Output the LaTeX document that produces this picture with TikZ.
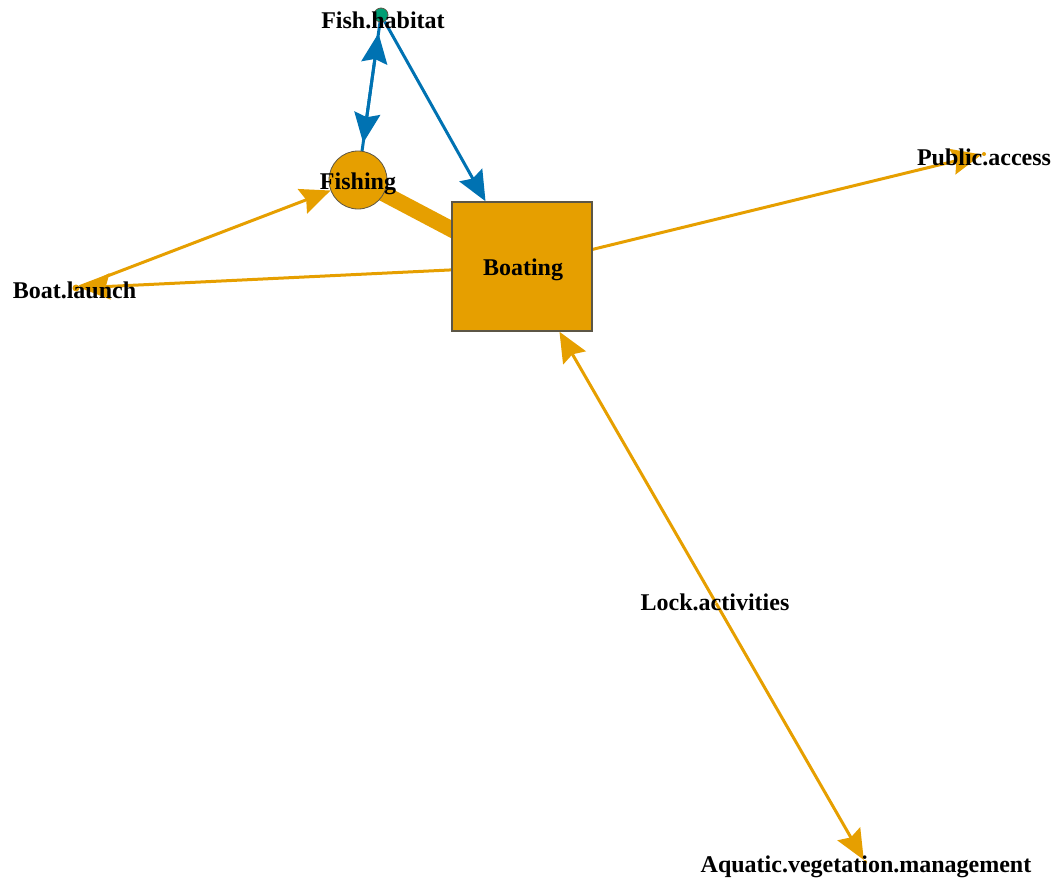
\documentclass[tikz,border=0pt]{standalone}
\usepackage{fontspec}
\setmainfont{Liberation Serif}
\usetikzlibrary{arrows.meta}
\definecolor{orng}{HTML}{E69F00}
\definecolor{blu}{HTML}{0072B2}
\definecolor{grn}{HTML}{009E73}
\definecolor{rim}{HTML}{5C5646}
\pgfdeclarelayer{edges}
\pgfdeclarelayer{labels}
\pgfsetlayers{edges,main,labels}
\tikzset{
  vtx/.style={circle, inner sep=0pt, draw=rim, line width=0.8pt, fill=orng},
  lbl/.style={font=\fontsize{24}{28}\selectfont\bfseries, anchor=base, inner sep=0pt},
  arr/.style={-{Stealth[length=30pt,width=26pt,inset=4pt]}},
  olink/.style={line width=3pt, draw=orng},
  blink/.style={line width=3pt, draw=blu},
}
\begin{document}
\begin{tikzpicture}[x=1pt,y=-1pt]
\useasboundingbox (0,0) rectangle (1059,884);
% vertices
\node[vtx, fill=grn, minimum size=14pt] (fh) at (381,15) {};
\node[vtx, minimum size=58pt] (fi) at (358,180) {};
\node[rectangle, draw=rim, line width=1.5pt, fill=orng, minimum width=140pt,
      minimum height=129pt, inner sep=0pt] (bo) at (522,266.5) {};
\node[vtx, draw=none, minimum size=7pt] (bl) at (76,288) {};
\node[vtx, draw=none, minimum size=4pt] (pa) at (984,154) {};
\node[inner sep=0pt, minimum size=0pt] (la) at (716,603) {};
\node[vtx, draw=none, minimum size=4pt] (av) at (865,862) {};
% edges, drawn beneath the vertices
\begin{pgfonlayer}{edges}
\draw[draw=orng, line width=16pt] (fi.center) -- (bo.center);
\draw[blink, arr, shorten >=11pt] (fi) -- (fh);
\draw[blink, arr, shorten >=8pt] (fh) -- (fi);
\draw[blink, arr] (fh) -- (bo);
\draw[olink, arr] (bl) -- (fi);
\draw[olink, arr] (bo) -- (bl);
\draw[olink, arr] (bo) -- (pa);
\draw[olink, arr] (la) -- (bo);
\draw[olink, arr] (la) -- (av);
\end{pgfonlayer}
% vertex labels
\begin{pgfonlayer}{labels}
\node[lbl] (tfh) at (383,28) {Fish.habitat};
\node[lbl] (tfi) at (358,189) {Fishing};
\node[lbl] (tbo) at (523,275) {Boating};
\node[lbl] (tbl) at (74.5,298) {Boat.launch};
\node[lbl] (tpa) at (984,165) {Public.access};
\node[lbl] (tla) at (715,610) {Lock.activities};
\node[lbl] (tav) at (866,872) {Aquatic.vegetation.management};
\end{pgfonlayer}
\end{tikzpicture}
\end{document}
